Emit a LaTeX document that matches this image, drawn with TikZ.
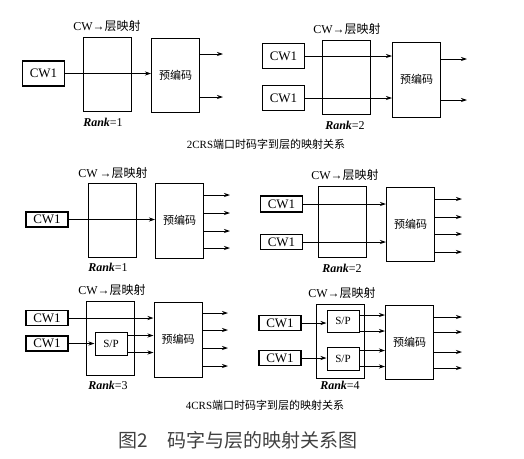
\documentclass[tikz,border=0pt]{standalone}
\usepackage{fontspec}
\setmainfont{Liberation Serif}
\newfontfamily\cjk{Noto Sans CJK SC}
\usetikzlibrary{arrows.meta}

\begin{document}
\begin{tikzpicture}[x=1pt, y=-1pt,
    cwbox/.style={draw, line width=1.2pt, inner sep=0, minimum width=42, font=\fontsize{13}{15}\selectfont},
    mapbox/.style={draw, line width=1pt, inner sep=0, minimum width=48, minimum height=74},
    prebox/.style={draw, line width=1pt, inner sep=0, minimum width=48, minimum height=74, font=\fontsize{11}{13}\selectfont\cjk},
    spbox/.style={draw, line width=1pt, inner sep=0, minimum width=32, minimum height=23, font=\fontsize{11}{13}\selectfont},
    maplabel/.style={font=\fontsize{12}{14}\selectfont},
    ranklabel/.style={font=\fontsize{12}{14}\selectfont},
    caption/.style={font=\fontsize{11}{13}\selectfont},
    arr/.style={-{Stealth[length=6pt,width=4pt]}, line width=0.8pt}]
    \useasboundingbox (0,0) rectangle (524,458);

    % 2CRS, Rank=1
    \node[cwbox, minimum height=25] (a-cw) at (43.5,73.5) {CW1};
    \node[mapbox] (a-map) at (107,74) {};
    \node[prebox] (a-pre) at (175.5,75) {预编码};
    \node[maplabel] (a-lbl) at (107,26) {CW→{\cjk 层映射}};
    \node[ranklabel] (a-rank) at (103,122) {\textbf{\textit{Rank}}=1};
    \draw[arr] (a-cw.east) -- (a-cw.east -| a-pre.west);
    \foreach \y [count=\i] in {54,97} {
        \coordinate (a-o\i) at (223,\y);
        \draw[arr] (a-pre.east |- a-o\i) -- (a-o\i);
    }

    % 2CRS, Rank=2
    \node[cwbox, minimum height=25] (b-cw1) at (283.5,56) {CW1};
    \node[cwbox, minimum height=25] (b-cw2) at (283.5,98) {CW1};
    \node[mapbox] (b-map) at (346.5,77) {};
    \node[prebox, minimum height=75] (b-pre) at (416.5,79.5) {预编码};
    \node[maplabel] (b-lbl) at (347,29) {CW→{\cjk 层映射}};
    \node[ranklabel] (b-rank) at (345,125) {\textbf{\textit{Rank}}=2};
    \draw[arr] (b-cw1.east) -- (b-cw1.east -| b-pre.west);
    \draw[arr] (b-cw2.east) -- (b-cw2.east -| b-pre.west);
    \foreach \y [count=\i] in {59,100} {
        \coordinate (b-o\i) at (467,\y);
        \draw[arr] (b-pre.east |- b-o\i) -- (b-o\i);
    }

    \node[caption] (cap1) at (266,144) {2CRS{\cjk 端口时码字到层的映射关系}};

    % 4CRS, Rank=1
    \node[cwbox, minimum height=15] (c-cw) at (47,219.5) {CW1};
    \node[mapbox] (c-map) at (112,220) {};
    \node[prebox, minimum height=75] (c-pre) at (179.5,220.5) {预编码};
    \node[maplabel] (c-lbl) at (113,173) {CW\,→{\cjk 层映射}};
    \node[ranklabel] (c-rank) at (108,267) {\textbf{\textit{Rank}}=1};
    \draw[arr] (c-cw.east) -- (c-cw.east -| c-pre.west);
    \foreach \y [count=\i] in {195,213,231,248} {
        \coordinate (c-o\i) at (230,\y);
        \draw[arr] (c-pre.east |- c-o\i) -- (c-o\i);
    }

    % 4CRS, Rank=2
    \node[cwbox, minimum height=16] (d-cw1) at (281.5,204) {CW1};
    \node[cwbox, minimum height=15] (d-cw2) at (281.5,242) {CW1};
    \node[mapbox, minimum height=71] (d-map) at (342,221.5) {};
    \node[prebox] (d-pre) at (410.5,224) {预编码};
    \node[maplabel] (d-lbl) at (345,175) {CW→{\cjk 层映射}};
    \node[ranklabel] (d-rank) at (342,268) {\textbf{\textit{Rank}}=2};
    \draw[arr] (d-cw1.east) -- (d-cw1.east -| d-pre.west);
    \draw[arr] (d-cw2.east) -- (d-cw2.east -| d-pre.west);
    \foreach \y [count=\i] in {199,217,234,252} {
        \coordinate (d-o\i) at (462,\y);
        \draw[arr] (d-pre.east |- d-o\i) -- (d-o\i);
    }

    % 4CRS, Rank=3
    \node[cwbox, minimum height=15] (e-cw1) at (47,318) {CW1};
    \node[cwbox, minimum height=15] (e-cw2) at (47,343.5) {CW1};
    \node[mapbox] (e-map) at (110,338) {};
    \node[spbox] (e-sp) at (111,343.5) {S/P};
    \node[prebox, minimum height=75] (e-pre) at (178,339.5) {预编码};
    \node[maplabel] (e-lbl) at (112,290) {CW→{\cjk 层映射}};
    \node[ranklabel] (e-rank) at (108,385) {\textbf{\textit{Rank}}=3};
    \draw[arr] (e-cw1.east) -- (e-cw1.east -| e-pre.west);
    \draw[arr] (e-cw2.east) -- (e-sp.west);
    \draw[arr] ([yshift=8pt]e-sp.east) -- ([yshift=8pt]e-sp.east -| e-pre.west);
    \draw[arr] ([yshift=-9pt]e-sp.east) -- ([yshift=-9pt]e-sp.east -| e-pre.west);
    \foreach \y [count=\i] in {313,330,348,366} {
        \coordinate (e-o\i) at (228,\y);
        \draw[arr] (e-pre.east |- e-o\i) -- (e-o\i);
    }

    % 4CRS, Rank=4
    \node[cwbox, minimum height=15] (f-cw1) at (280,323) {CW1};
    \node[cwbox, minimum height=15] (f-cw2) at (280,358) {CW1};
    \node[mapbox] (f-map) at (340.5,341) {};
    \node[spbox, minimum height=22] (f-sp1) at (343,321) {S/P};
    \node[spbox] (f-sp2) at (343,358.5) {S/P};
    \node[prebox] (f-pre) at (409.5,342) {预编码};
    \node[maplabel] (f-lbl) at (342,293) {CW→{\cjk 层映射}};
    \node[ranklabel] (f-rank) at (340,385) {\textbf{\textit{Rank}}=4};
    \draw[arr] (f-cw1.east) -- (f-cw1.east -| f-sp1.west);
    \draw[arr] (f-cw2.east) -- (f-cw2.east -| f-sp2.west);
    \draw[arr] ([yshift=6pt]f-sp1.east) -- ([yshift=6pt]f-sp1.east -| f-pre.west);
    \draw[arr] ([yshift=-10pt]f-sp1.east) -- ([yshift=-10pt]f-sp1.east -| f-pre.west);
    \draw[arr] ([yshift=8pt]f-sp2.east) -- ([yshift=8pt]f-sp2.east -| f-pre.west);
    \draw[arr] ([yshift=-8pt]f-sp2.east) -- ([yshift=-8pt]f-sp2.east -| f-pre.west);
    \foreach \y [count=\i] in {317,332,352,368} {
        \coordinate (f-o\i) at (462,\y);
        \draw[arr] (f-pre.east |- f-o\i) -- (f-o\i);
    }

    \node[caption] (cap2) at (265,405) {4CRS{\cjk 端口时码字到层的映射关系}};

    \node[font=\fontsize{19}{22}\selectfont\cjk, text=black!75] (title) at (238,440) {图2　码字与层的映射关系图};
\end{tikzpicture}
\end{document}
